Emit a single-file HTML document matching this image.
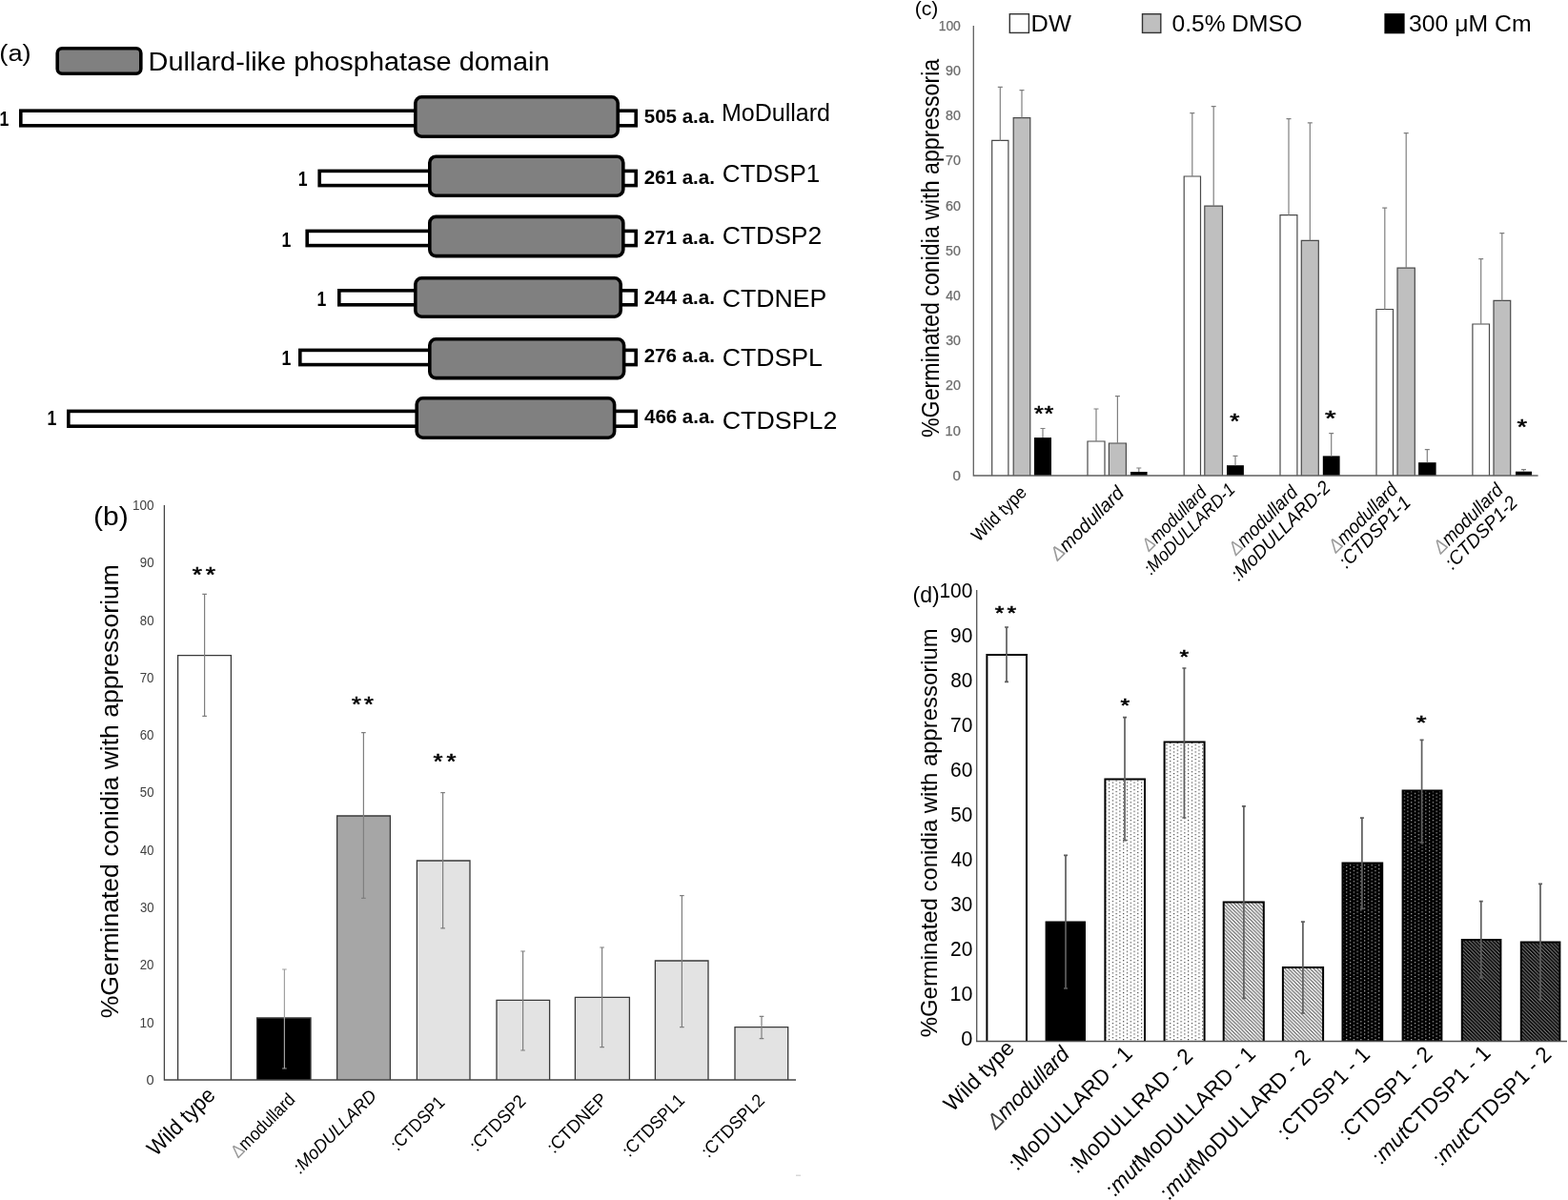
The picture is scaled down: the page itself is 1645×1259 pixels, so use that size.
<!DOCTYPE html>
<html><head><meta charset="utf-8"><style>
html,body{margin:0;padding:0;background:#fff;}
svg{display:block;}
text{font-family:'Liberation Sans', Arial, sans-serif;}
</style></head><body>
<svg width="1645" height="1259" viewBox="0 0 1645 1259">
<rect width="1645" height="1259" fill="#fff"/>
<g id="pa">
<text x="-0.70" y="63.88" font-size="24.66" textLength="33.33" lengthAdjust="spacingAndGlyphs">(a)</text>
<rect x="60.2" y="50.8" width="87.6" height="26.4" rx="5" fill="#808080" stroke="#000" stroke-width="3.6"/>
<text x="155.62" y="73.50" font-size="28.36" textLength="420.85" lengthAdjust="spacingAndGlyphs">Dullard-like phosphatase domain</text>
<rect x="21.8" y="116.2" width="645.4" height="15.6" fill="#fff" stroke="#000" stroke-width="3.6"/>
<rect x="435.8" y="101.8" width="212.4" height="41.4" rx="6.5" fill="#808080" stroke="#000" stroke-width="3.6"/>
<text x="-0.60" y="132.00" font-size="21.24" textLength="9.81" lengthAdjust="spacingAndGlyphs" font-weight="bold">1</text>
<text x="675.78" y="129.40" font-size="20.95" textLength="74.19" lengthAdjust="spacingAndGlyphs" font-weight="bold">505 a.a.</text>
<text x="756.93" y="126.50" font-size="26.47" textLength="114.09" lengthAdjust="spacingAndGlyphs">MoDullard</text>
<rect x="335.2" y="179.4" width="332.0" height="15.2" fill="#fff" stroke="#000" stroke-width="3.6"/>
<rect x="450.8" y="164.2" width="203.0" height="41.0" rx="6.5" fill="#808080" stroke="#000" stroke-width="3.6"/>
<text x="312.80" y="195.00" font-size="21.24" textLength="9.81" lengthAdjust="spacingAndGlyphs" font-weight="bold">1</text>
<text x="675.68" y="193.00" font-size="20.95" textLength="74.29" lengthAdjust="spacingAndGlyphs" font-weight="bold">261 a.a.</text>
<text x="757.70" y="191.00" font-size="26.47" textLength="102.54" lengthAdjust="spacingAndGlyphs">CTDSP1</text>
<rect x="322.2" y="242.4" width="345.0" height="15.2" fill="#fff" stroke="#000" stroke-width="3.6"/>
<rect x="450.8" y="227.4" width="203.0" height="41.2" rx="6.5" fill="#808080" stroke="#000" stroke-width="3.6"/>
<text x="295.40" y="259.00" font-size="21.24" textLength="9.81" lengthAdjust="spacingAndGlyphs" font-weight="bold">1</text>
<text x="675.68" y="256.00" font-size="20.95" textLength="74.29" lengthAdjust="spacingAndGlyphs" font-weight="bold">271 a.a.</text>
<text x="757.67" y="256.00" font-size="26.47" textLength="104.66" lengthAdjust="spacingAndGlyphs">CTDSP2</text>
<rect x="355.8" y="304.8" width="311.4" height="15.0" fill="#fff" stroke="#000" stroke-width="3.6"/>
<rect x="435.8" y="291.8" width="215.4" height="40.4" rx="6.5" fill="#808080" stroke="#000" stroke-width="3.6"/>
<text x="332.40" y="321.00" font-size="21.24" textLength="9.81" lengthAdjust="spacingAndGlyphs" font-weight="bold">1</text>
<text x="675.68" y="319.00" font-size="20.95" textLength="74.29" lengthAdjust="spacingAndGlyphs" font-weight="bold">244 a.a.</text>
<text x="757.67" y="321.60" font-size="26.47" textLength="109.71" lengthAdjust="spacingAndGlyphs">CTDNEP</text>
<rect x="314.8" y="367.4" width="352.4" height="15.2" fill="#fff" stroke="#000" stroke-width="3.6"/>
<rect x="450.8" y="355.8" width="203.8" height="40.8" rx="6.5" fill="#808080" stroke="#000" stroke-width="3.6"/>
<text x="295.40" y="383.00" font-size="21.24" textLength="9.81" lengthAdjust="spacingAndGlyphs" font-weight="bold">1</text>
<text x="675.68" y="380.00" font-size="20.95" textLength="74.29" lengthAdjust="spacingAndGlyphs" font-weight="bold">276 a.a.</text>
<text x="757.67" y="384.00" font-size="26.47" textLength="105.21" lengthAdjust="spacingAndGlyphs">CTDSPL</text>
<rect x="71.8" y="431.4" width="595.4" height="15.8" fill="#fff" stroke="#000" stroke-width="3.6"/>
<rect x="437.2" y="417.8" width="207.4" height="41.4" rx="6.5" fill="#808080" stroke="#000" stroke-width="3.6"/>
<text x="49.40" y="446.00" font-size="21.24" textLength="9.81" lengthAdjust="spacingAndGlyphs" font-weight="bold">1</text>
<text x="676.09" y="444.00" font-size="20.95" textLength="73.87" lengthAdjust="spacingAndGlyphs" font-weight="bold">466 a.a.</text>
<text x="757.66" y="450.00" font-size="26.47" textLength="120.72" lengthAdjust="spacingAndGlyphs">CTDSPL2</text>
</g>
<g id="pb">
<text x="98.12" y="551.44" font-size="26.81" textLength="36.67" lengthAdjust="spacingAndGlyphs">(b)</text>
<text transform="translate(123.6,1068.33) rotate(-90)" x="0" y="0" font-size="26.5" textLength="476.27" lengthAdjust="spacingAndGlyphs">%Germinated conidia with appressorium</text>
<text x="153.41" y="1137.95" font-size="14.40" textLength="8.15" lengthAdjust="spacingAndGlyphs" fill="#404040">0</text>
<text x="146.38" y="1077.65" font-size="14.40" textLength="15.17" lengthAdjust="spacingAndGlyphs" fill="#404040">10</text>
<text x="146.73" y="1017.35" font-size="14.40" textLength="14.79" lengthAdjust="spacingAndGlyphs" fill="#404040">20</text>
<text x="146.91" y="957.05" font-size="14.40" textLength="14.62" lengthAdjust="spacingAndGlyphs" fill="#404040">30</text>
<text x="147.11" y="896.75" font-size="14.40" textLength="14.41" lengthAdjust="spacingAndGlyphs" fill="#404040">40</text>
<text x="146.87" y="836.45" font-size="14.40" textLength="14.65" lengthAdjust="spacingAndGlyphs" fill="#404040">50</text>
<text x="146.73" y="776.15" font-size="14.40" textLength="14.79" lengthAdjust="spacingAndGlyphs" fill="#404040">60</text>
<text x="146.73" y="715.85" font-size="14.40" textLength="14.79" lengthAdjust="spacingAndGlyphs" fill="#404040">70</text>
<text x="146.84" y="655.55" font-size="14.40" textLength="14.69" lengthAdjust="spacingAndGlyphs" fill="#404040">80</text>
<text x="146.77" y="595.25" font-size="14.40" textLength="14.76" lengthAdjust="spacingAndGlyphs" fill="#404040">90</text>
<text x="138.88" y="534.95" font-size="14.40" textLength="22.64" lengthAdjust="spacingAndGlyphs" fill="#404040">100</text>
<rect x="186.6" y="687.6" width="55.8" height="445.4" fill="#fff"/>
<path d="M186.6 1133.0V687.6H242.4V1133.0" fill="none" stroke="#3a3a3a" stroke-width="1.3"/>
<rect x="269.6" y="1068.0" width="56.4" height="65.0" fill="#000"/>
<path d="M269.6 1133.0V1068.0H326.0V1133.0" fill="none" stroke="#3a3a3a" stroke-width="1.3"/>
<rect x="353.6" y="856.0" width="55.8" height="277.0" fill="#a6a6a6"/>
<path d="M353.6 1133.0V856.0H409.4V1133.0" fill="none" stroke="#3a3a3a" stroke-width="1.3"/>
<rect x="437.4" y="903.0" width="55.6" height="230.0" fill="#e3e3e3"/>
<path d="M437.4 1133.0V903.0H493.0V1133.0" fill="none" stroke="#3a3a3a" stroke-width="1.3"/>
<rect x="521.0" y="1049.4" width="55.6" height="83.6" fill="#e3e3e3"/>
<path d="M521.0 1133.0V1049.4H576.6V1133.0" fill="none" stroke="#3a3a3a" stroke-width="1.3"/>
<rect x="603.4" y="1046.4" width="57.0" height="86.6" fill="#e3e3e3"/>
<path d="M603.4 1133.0V1046.4H660.4V1133.0" fill="none" stroke="#3a3a3a" stroke-width="1.3"/>
<rect x="687.4" y="1008.0" width="55.6" height="125.0" fill="#e3e3e3"/>
<path d="M687.4 1133.0V1008.0H743.0V1133.0" fill="none" stroke="#3a3a3a" stroke-width="1.3"/>
<rect x="771.0" y="1077.6" width="55.7" height="55.4" fill="#e3e3e3"/>
<path d="M771.0 1133.0V1077.6H826.7V1133.0" fill="none" stroke="#3a3a3a" stroke-width="1.3"/>
<path d="M214.6 623.4V751.4M212.29999999999998 623.4H216.9M212.29999999999998 751.4H216.9" stroke="#7f7f7f" stroke-width="1.2" fill="none"/>
<path d="M298.4 1017V1121M296.09999999999997 1017H300.7M296.09999999999997 1121H300.7" stroke="#a0a0a0" stroke-width="1.2" fill="none"/>
<path d="M381.4 768.6V942.4M379.09999999999997 768.6H383.7M379.09999999999997 942.4H383.7" stroke="#7f7f7f" stroke-width="1.2" fill="none"/>
<path d="M464.6 831.6V973.8M462.3 831.6H466.90000000000003M462.3 973.8H466.90000000000003" stroke="#7f7f7f" stroke-width="1.2" fill="none"/>
<path d="M548.6 998V1102M546.3000000000001 998H550.9M546.3000000000001 1102H550.9" stroke="#7f7f7f" stroke-width="1.2" fill="none"/>
<path d="M631.6 994V1098.6M629.3000000000001 994H633.9M629.3000000000001 1098.6H633.9" stroke="#7f7f7f" stroke-width="1.2" fill="none"/>
<path d="M715.4 939.6V1077.6M713.1 939.6H717.6999999999999M713.1 1077.6H717.6999999999999" stroke="#7f7f7f" stroke-width="1.2" fill="none"/>
<path d="M799 1066.4V1089.6M796.7 1066.4H801.3M796.7 1089.6H801.3" stroke="#7f7f7f" stroke-width="1.2" fill="none"/>
<path d="M172.4 530V1133.6M171.8 1133H835" stroke="#444" stroke-width="1.3" fill="none"/>
<text x="201.89" y="609.83" font-size="21.32" textLength="10.23" lengthAdjust="spacingAndGlyphs" font-family="'DejaVu Sans', sans-serif" stroke="#000" stroke-width="0.55">*</text>
<text x="215.69" y="609.83" font-size="21.32" textLength="10.23" lengthAdjust="spacingAndGlyphs" font-family="'DejaVu Sans', sans-serif" stroke="#000" stroke-width="0.55">*</text>
<text x="368.91" y="745.79" font-size="21.54" textLength="9.89" lengthAdjust="spacingAndGlyphs" font-family="'DejaVu Sans', sans-serif" stroke="#000" stroke-width="0.55">*</text>
<text x="382.11" y="745.79" font-size="21.54" textLength="9.89" lengthAdjust="spacingAndGlyphs" font-family="'DejaVu Sans', sans-serif" stroke="#000" stroke-width="0.55">*</text>
<text x="454.40" y="805.83" font-size="21.32" textLength="10.00" lengthAdjust="spacingAndGlyphs" font-family="'DejaVu Sans', sans-serif" stroke="#000" stroke-width="0.55">*</text>
<text x="468.60" y="805.83" font-size="21.32" textLength="10.00" lengthAdjust="spacingAndGlyphs" font-family="'DejaVu Sans', sans-serif" stroke="#000" stroke-width="0.55">*</text>
<text transform="translate(163.54,1213.92) rotate(-45)" font-size="23.00" textLength="89.77" lengthAdjust="spacingAndGlyphs">Wild type</text>
<text transform="translate(249.80,1215.80) rotate(-45)" font-size="19.00" textLength="86.22" lengthAdjust="spacingAndGlyphs"><tspan fill="#9a9a9a">&#916;</tspan>modullard</text>
<text transform="translate(315.01,1232.13) rotate(-45)" font-size="19.00" textLength="114.85" lengthAdjust="spacingAndGlyphs" font-style="italic">:MoDULLARD</text>
<text transform="translate(417.31,1208.17) rotate(-45)" font-size="19.00" textLength="71.27" lengthAdjust="spacingAndGlyphs">:CTDSP1</text>
<text transform="translate(500.21,1209.05) rotate(-45)" font-size="19.00" textLength="74.18" lengthAdjust="spacingAndGlyphs">:CTDSP2</text>
<text transform="translate(581.35,1211.09) rotate(-45)" font-size="19.00" textLength="80.12" lengthAdjust="spacingAndGlyphs">:CTDNEP</text>
<text transform="translate(660.36,1214.69) rotate(-45)" font-size="19.00" textLength="83.35" lengthAdjust="spacingAndGlyphs">:CTDSPL1</text>
<text transform="translate(743.24,1215.61) rotate(-45)" font-size="19.00" textLength="84.75" lengthAdjust="spacingAndGlyphs">:CTDSPL2</text>
<rect x="835" y="1232.6" width="5" height="1.2" fill="#cfcfcf"/>
</g>
<g id="pc">
<text x="959.68" y="15.99" font-size="19.30" textLength="24.61" lengthAdjust="spacingAndGlyphs">(c)</text>
<text transform="translate(985.2,459.01) rotate(-90)" x="0" y="0" font-size="24.90" textLength="397.26" lengthAdjust="spacingAndGlyphs">%Germinated conidia with appressoria</text>
<text x="999.50" y="503.75" font-size="13.82" textLength="8.39" lengthAdjust="spacingAndGlyphs" fill="#6c6c6c" stroke="#6c6c6c" stroke-width="0.25">0</text>
<text x="991.60" y="456.55" font-size="13.82" textLength="16.28" lengthAdjust="spacingAndGlyphs" fill="#6c6c6c" stroke="#6c6c6c" stroke-width="0.25">10</text>
<text x="991.99" y="409.35" font-size="13.82" textLength="15.88" lengthAdjust="spacingAndGlyphs" fill="#6c6c6c" stroke="#6c6c6c" stroke-width="0.25">20</text>
<text x="992.17" y="362.15" font-size="13.82" textLength="15.69" lengthAdjust="spacingAndGlyphs" fill="#6c6c6c" stroke="#6c6c6c" stroke-width="0.25">30</text>
<text x="992.39" y="314.95" font-size="13.82" textLength="15.47" lengthAdjust="spacingAndGlyphs" fill="#6c6c6c" stroke="#6c6c6c" stroke-width="0.25">40</text>
<text x="992.13" y="267.75" font-size="13.82" textLength="15.73" lengthAdjust="spacingAndGlyphs" fill="#6c6c6c" stroke="#6c6c6c" stroke-width="0.25">50</text>
<text x="991.99" y="220.55" font-size="13.82" textLength="15.88" lengthAdjust="spacingAndGlyphs" fill="#6c6c6c" stroke="#6c6c6c" stroke-width="0.25">60</text>
<text x="991.99" y="173.35" font-size="13.82" textLength="15.88" lengthAdjust="spacingAndGlyphs" fill="#6c6c6c" stroke="#6c6c6c" stroke-width="0.25">70</text>
<text x="992.10" y="126.15" font-size="13.82" textLength="15.77" lengthAdjust="spacingAndGlyphs" fill="#6c6c6c" stroke="#6c6c6c" stroke-width="0.25">80</text>
<text x="992.02" y="78.95" font-size="13.82" textLength="15.84" lengthAdjust="spacingAndGlyphs" fill="#6c6c6c" stroke="#6c6c6c" stroke-width="0.25">90</text>
<text x="984.66" y="31.75" font-size="13.82" textLength="23.18" lengthAdjust="spacingAndGlyphs" fill="#6c6c6c" stroke="#6c6c6c" stroke-width="0.25">100</text>
<rect x="1059.3" y="14.7" width="20.1" height="19.7" fill="#fff" stroke="#333" stroke-width="1.4"/>
<rect x="1198.5" y="14.7" width="19.3" height="19.7" fill="#bfbfbf" stroke="#333" stroke-width="1.4"/>
<rect x="1452.4" y="14.1" width="21.2" height="21.2" fill="#000"/>
<text x="1081.61" y="32.50" font-size="24.58" textLength="42.28" lengthAdjust="spacingAndGlyphs">DW</text>
<text x="1229.52" y="32.50" font-size="24.58">0.5% DMSO</text>
<text x="1478.07" y="32.70" font-size="24.58" textLength="128.57" lengthAdjust="spacingAndGlyphs">300 μM Cm</text>
<rect x="1040.7" y="147.4" width="17.2" height="351.6" fill="#fff"/>
<path d="M1040.7 499.0V147.4H1057.9V499.0" fill="none" stroke="#4a4a4a" stroke-width="1.2"/>
<path d="M1049.3 147.4V91.4M1046.8 91.4H1051.8" stroke="#808080" stroke-width="1.2" fill="none"/>
<rect x="1063.2" y="123.6" width="17.6" height="375.4" fill="#bfbfbf"/>
<path d="M1063.2 499.0V123.6H1080.8V499.0" fill="none" stroke="#4a4a4a" stroke-width="1.2"/>
<path d="M1072.0 123.6V94.6M1069.5 94.6H1074.5" stroke="#808080" stroke-width="1.2" fill="none"/>
<rect x="1085.0" y="459.1" width="18.0" height="39.9" fill="#000"/>
<path d="M1094.0 459.1V449.5M1091.5 449.5H1096.5" stroke="#808080" stroke-width="1.2" fill="none"/>
<rect x="1141.0" y="463.0" width="18.0" height="36.0" fill="#fff"/>
<path d="M1141.0 499.0V463.0H1159.0V499.0" fill="none" stroke="#4a4a4a" stroke-width="1.2"/>
<path d="M1150.0 463.0V429M1147.5 429H1152.5" stroke="#808080" stroke-width="1.2" fill="none"/>
<rect x="1163.4" y="465.0" width="18.0" height="34.0" fill="#bfbfbf"/>
<path d="M1163.4 499.0V465.0H1181.4V499.0" fill="none" stroke="#4a4a4a" stroke-width="1.2"/>
<path d="M1172.4 465.0V415.6M1169.9 415.6H1174.9" stroke="#808080" stroke-width="1.2" fill="none"/>
<rect x="1186.0" y="495.0" width="17.6" height="4.0" fill="#000"/>
<path d="M1194.8 495.0V491M1192.3 491H1197.3" stroke="#808080" stroke-width="1.2" fill="none"/>
<rect x="1242.2" y="185.0" width="17.3" height="314.0" fill="#fff"/>
<path d="M1242.2 499.0V185.0H1259.5V499.0" fill="none" stroke="#4a4a4a" stroke-width="1.2"/>
<path d="M1250.8 185.0V118.6M1248.3 118.6H1253.3" stroke="#808080" stroke-width="1.2" fill="none"/>
<rect x="1263.8" y="216.2" width="18.7" height="282.8" fill="#bfbfbf"/>
<path d="M1263.8 499.0V216.2H1282.5V499.0" fill="none" stroke="#4a4a4a" stroke-width="1.2"/>
<path d="M1273.2 216.2V111.7M1270.7 111.7H1275.7" stroke="#808080" stroke-width="1.2" fill="none"/>
<rect x="1287.0" y="488.2" width="17.9" height="10.8" fill="#000"/>
<path d="M1296.0 488.2V478.4M1293.5 478.4H1298.5" stroke="#808080" stroke-width="1.2" fill="none"/>
<rect x="1343.0" y="225.7" width="17.9" height="273.3" fill="#fff"/>
<path d="M1343.0 499.0V225.7H1360.9V499.0" fill="none" stroke="#4a4a4a" stroke-width="1.2"/>
<path d="M1352.0 225.7V124.7M1349.5 124.7H1354.5" stroke="#808080" stroke-width="1.2" fill="none"/>
<rect x="1365.3" y="252.3" width="18.0" height="246.7" fill="#bfbfbf"/>
<path d="M1365.3 499.0V252.3H1383.3V499.0" fill="none" stroke="#4a4a4a" stroke-width="1.2"/>
<path d="M1374.3 252.3V128.8M1371.8 128.8H1376.8" stroke="#808080" stroke-width="1.2" fill="none"/>
<rect x="1387.8" y="478.4" width="17.8" height="20.6" fill="#000"/>
<path d="M1396.7 478.4V454.7M1394.2 454.7H1399.2" stroke="#808080" stroke-width="1.2" fill="none"/>
<rect x="1444.0" y="324.5" width="17.5" height="174.5" fill="#fff"/>
<path d="M1444.0 499.0V324.5H1461.5V499.0" fill="none" stroke="#4a4a4a" stroke-width="1.2"/>
<path d="M1452.8 324.5V218.1M1450.2 218.1H1455.2" stroke="#808080" stroke-width="1.2" fill="none"/>
<rect x="1466.0" y="281.2" width="18.3" height="217.8" fill="#bfbfbf"/>
<path d="M1466.0 499.0V281.2H1484.3V499.0" fill="none" stroke="#4a4a4a" stroke-width="1.2"/>
<path d="M1475.2 281.2V139.7M1472.7 139.7H1477.7" stroke="#808080" stroke-width="1.2" fill="none"/>
<rect x="1488.1" y="485.2" width="18.5" height="13.8" fill="#000"/>
<path d="M1497.3 485.2V471.6M1494.8 471.6H1499.8" stroke="#808080" stroke-width="1.2" fill="none"/>
<rect x="1544.9" y="340.0" width="17.6" height="159.0" fill="#fff"/>
<path d="M1544.9 499.0V340.0H1562.5V499.0" fill="none" stroke="#4a4a4a" stroke-width="1.2"/>
<path d="M1553.7 340.0V271.7M1551.2 271.7H1556.2" stroke="#808080" stroke-width="1.2" fill="none"/>
<rect x="1567.0" y="315.4" width="17.7" height="183.6" fill="#bfbfbf"/>
<path d="M1567.0 499.0V315.4H1584.7V499.0" fill="none" stroke="#4a4a4a" stroke-width="1.2"/>
<path d="M1575.8 315.4V244.6M1573.3 244.6H1578.3" stroke="#808080" stroke-width="1.2" fill="none"/>
<rect x="1590.0" y="494.7" width="17.0" height="4.3" fill="#000"/>
<path d="M1598.5 494.7V492.6M1596.0 492.6H1601.0" stroke="#808080" stroke-width="1.2" fill="none"/>
<path d="M1021.3 27V499.6M1020.7 499H1613.6" stroke="#606060" stroke-width="1.3" fill="none"/>
<text x="1085.11" y="441.38" font-size="22.20" textLength="9.77" lengthAdjust="spacingAndGlyphs" font-family="'DejaVu Sans', sans-serif" stroke="#000" stroke-width="0.55">*</text>
<text x="1095.41" y="441.38" font-size="22.20" textLength="9.77" lengthAdjust="spacingAndGlyphs" font-family="'DejaVu Sans', sans-serif" stroke="#000" stroke-width="0.55">*</text>
<text x="1290.39" y="449.05" font-size="22.42" textLength="10.23" lengthAdjust="spacingAndGlyphs" font-family="'DejaVu Sans', sans-serif" stroke="#000" stroke-width="0.55">*</text>
<text x="1390.10" y="446.32" font-size="21.98" textLength="11.59" lengthAdjust="spacingAndGlyphs" font-family="'DejaVu Sans', sans-serif" stroke="#000" stroke-width="0.55">*</text>
<text x="1591.57" y="455.32" font-size="21.98" textLength="10.57" lengthAdjust="spacingAndGlyphs" font-family="'DejaVu Sans', sans-serif" stroke="#000" stroke-width="0.55">*</text>
<text transform="translate(1026.73,569.22) rotate(-45)" font-size="19.00" textLength="72.86" lengthAdjust="spacingAndGlyphs">Wild type</text>
<text transform="translate(1109.51,589.33) rotate(-45)" font-size="20.00" textLength="100.26" lengthAdjust="spacingAndGlyphs" font-style="italic"><tspan fill="#9a9a9a">&#916;</tspan>modullard</text>
<text transform="translate(1205.56,579.21) rotate(-45)" font-size="19.00" textLength="86.80" lengthAdjust="spacingAndGlyphs" font-style="italic"><tspan fill="#9a9a9a">&#916;</tspan>modullard</text>
<text transform="translate(1207.39,604.12) rotate(-45)" font-size="19.00" textLength="126.55" lengthAdjust="spacingAndGlyphs" font-style="italic">:MoDULLARD-1</text>
<text transform="translate(1296.75,583.61) rotate(-45)" font-size="20.00" textLength="93.16" lengthAdjust="spacingAndGlyphs" font-style="italic"><tspan fill="#9a9a9a">&#916;</tspan>modullard</text>
<text transform="translate(1299.16,610.54) rotate(-45)" font-size="20.00" textLength="138.31" lengthAdjust="spacingAndGlyphs" font-style="italic">:MoDULLARD-2</text>
<text transform="translate(1401.41,580.90) rotate(-45)" font-size="20.00" textLength="93.53" lengthAdjust="spacingAndGlyphs" font-style="italic"><tspan fill="#9a9a9a">&#916;</tspan>modullard</text>
<text transform="translate(1412.45,597.32) rotate(-45)" font-size="20.00" textLength="97.33" lengthAdjust="spacingAndGlyphs" font-style="italic">:CTDSP1-1</text>
<text transform="translate(1511.44,582.05) rotate(-45)" font-size="20.00" textLength="94.12" lengthAdjust="spacingAndGlyphs" font-style="italic"><tspan fill="#9a9a9a">&#916;</tspan>modullard</text>
<text transform="translate(1523.69,598.39) rotate(-45)" font-size="20.00" textLength="98.66" lengthAdjust="spacingAndGlyphs" font-style="italic">:CTDSP1-2</text>
</g>
<defs>
<pattern id="pdl" patternUnits="userSpaceOnUse" width="7.55" height="3.77" x="0.3" y="0.5"><rect width="7.55" height="3.77" fill="#fff"/><rect x="0" y="0" width="1.2" height="1.2" fill="#3c3c3c"/><rect x="3.775" y="1.885" width="1.2" height="1.2" fill="#3c3c3c"/></pattern>
<pattern id="pdd" patternUnits="userSpaceOnUse" width="7.55" height="3.77" x="0.3" y="0.5"><rect width="7.55" height="3.77" fill="#000"/><rect x="0" y="0" width="1.25" height="1.25" fill="#b0b0b0"/><rect x="3.775" y="1.885" width="1.25" height="1.25" fill="#b0b0b0"/></pattern>
<pattern id="phl" patternUnits="userSpaceOnUse" width="3.77" height="3.77"><rect width="3.77" height="3.77" fill="#fff"/><path d="M-1 -1L4.77 4.77M-4.77 -1L1 4.77M2.77 -1L8.54 4.77" stroke="#555" stroke-width="1.15"/></pattern>
<pattern id="phd" patternUnits="userSpaceOnUse" width="3.77" height="3.77"><rect width="3.77" height="3.77" fill="#000"/><path d="M-1 -1L4.77 4.77M-4.77 -1L1 4.77M2.77 -1L8.54 4.77" stroke="#8c8c8c" stroke-width="0.95"/></pattern>
</defs>
<g id="pd">
<text x="957.56" y="632.22" font-size="23.06">(d)</text>
<text transform="translate(983,1088.24) rotate(-90)" x="0" y="0" font-size="23.80" textLength="429.01" lengthAdjust="spacingAndGlyphs">%Germinated conidia with appressorium</text>
<text x="1008.23" y="1097.35" font-size="21.96" textLength="12.11" lengthAdjust="spacingAndGlyphs">0</text>
<text x="996.49" y="1050.36" font-size="21.96" textLength="23.86" lengthAdjust="spacingAndGlyphs">10</text>
<text x="997.05" y="1003.36" font-size="21.96" textLength="23.28" lengthAdjust="spacingAndGlyphs">20</text>
<text x="997.32" y="956.36" font-size="21.96" textLength="23.00" lengthAdjust="spacingAndGlyphs">30</text>
<text x="997.64" y="909.37" font-size="21.96" textLength="22.67" lengthAdjust="spacingAndGlyphs">40</text>
<text x="997.27" y="862.38" font-size="21.96" textLength="23.05" lengthAdjust="spacingAndGlyphs">50</text>
<text x="997.05" y="815.38" font-size="21.96" textLength="23.28" lengthAdjust="spacingAndGlyphs">60</text>
<text x="997.05" y="768.38" font-size="21.96" textLength="23.28" lengthAdjust="spacingAndGlyphs">70</text>
<text x="997.22" y="721.39" font-size="21.96" textLength="23.11" lengthAdjust="spacingAndGlyphs">80</text>
<text x="997.11" y="674.39" font-size="21.96" textLength="23.22" lengthAdjust="spacingAndGlyphs">90</text>
<text x="985.43" y="627.40" font-size="21.96" textLength="34.87" lengthAdjust="spacingAndGlyphs">100</text>
<rect x="1035.4" y="687.0" width="41.6" height="405.5" fill="#fff"/>
<path d="M1035.4 1092.5V687.0H1077.0V1092.5" fill="none" stroke="#000" stroke-width="2"/>
<rect x="1097.6" y="967.6" width="40.4" height="124.9" fill="#000"/>
<path d="M1097.6 1092.5V967.6H1138.0V1092.5" fill="none" stroke="#000" stroke-width="2"/>
<rect x="1159.4" y="817.4" width="41.6" height="275.1" fill="url(#pdl)"/>
<path d="M1159.4 1092.5V817.4H1201.0V1092.5" fill="none" stroke="#000" stroke-width="2"/>
<rect x="1221.6" y="778.6" width="42.0" height="313.9" fill="url(#pdl)"/>
<path d="M1221.6 1092.5V778.6H1263.6V1092.5" fill="none" stroke="#000" stroke-width="2"/>
<rect x="1283.7" y="946.6" width="42.1" height="145.9" fill="url(#phl)"/>
<path d="M1283.7 1092.5V946.6H1325.8V1092.5" fill="none" stroke="#000" stroke-width="2"/>
<rect x="1345.9" y="1015.0" width="42.2" height="77.5" fill="url(#phl)"/>
<path d="M1345.9 1092.5V1015.0H1388.1V1092.5" fill="none" stroke="#000" stroke-width="2"/>
<rect x="1408.5" y="905.4" width="41.7" height="187.1" fill="url(#pdd)"/>
<path d="M1408.5 1092.5V905.4H1450.2V1092.5" fill="none" stroke="#000" stroke-width="2"/>
<rect x="1471.6" y="829.5" width="40.8" height="263.0" fill="url(#pdd)"/>
<path d="M1471.6 1092.5V829.5H1512.4V1092.5" fill="none" stroke="#000" stroke-width="2"/>
<rect x="1533.8" y="985.9" width="40.6" height="106.6" fill="url(#phd)"/>
<path d="M1533.8 1092.5V985.9H1574.4V1092.5" fill="none" stroke="#000" stroke-width="2"/>
<rect x="1595.8" y="988.6" width="40.6" height="103.9" fill="url(#phd)"/>
<path d="M1595.8 1092.5V988.6H1636.4V1092.5" fill="none" stroke="#000" stroke-width="2"/>
<path d="M1056 658V715.4M1054 658H1058M1054 715.4H1058" stroke="#5e5e5e" stroke-width="1.7" fill="none"/>
<path d="M1118 897.4V1037M1116 897.4H1120M1116 1037H1120" stroke="#5e5e5e" stroke-width="1.7" fill="none"/>
<path d="M1180 752.6V881.6M1178 752.6H1182M1178 881.6H1182" stroke="#5e5e5e" stroke-width="1.7" fill="none"/>
<path d="M1242.4 701V858M1240.4 701H1244.4M1240.4 858H1244.4" stroke="#5e5e5e" stroke-width="1.7" fill="none"/>
<path d="M1304.9 845.8V1047.5M1302.9 845.8H1306.9M1302.9 1047.5H1306.9" stroke="#5e5e5e" stroke-width="1.7" fill="none"/>
<path d="M1366.9 967.1V1063M1364.9 967.1H1368.9M1364.9 1063H1368.9" stroke="#5e5e5e" stroke-width="1.7" fill="none"/>
<path d="M1428.9 858.1V953.4M1426.9 858.1H1430.9M1426.9 953.4H1430.9" stroke="#5e5e5e" stroke-width="1.7" fill="none"/>
<path d="M1491.6 776.3V883.9M1489.6 776.3H1493.6M1489.6 883.9H1493.6" stroke="#5e5e5e" stroke-width="1.7" fill="none"/>
<path d="M1553.8 945.6V1025.9M1551.8 945.6H1555.8M1551.8 1025.9H1555.8" stroke="#5e5e5e" stroke-width="1.7" fill="none"/>
<path d="M1616 927.4V1048.7M1614 927.4H1618M1614 1048.7H1618" stroke="#5e5e5e" stroke-width="1.7" fill="none"/>
<path d="M1024.7 619V1093.1M1024 1092.5H1644" stroke="#555" stroke-width="1.3" fill="none"/>
<text x="1043.72" y="649.57" font-size="21.10" textLength="9.66" lengthAdjust="spacingAndGlyphs" font-family="'DejaVu Sans', sans-serif" stroke="#000" stroke-width="0.55">*</text>
<text x="1056.42" y="649.57" font-size="21.10" textLength="9.66" lengthAdjust="spacingAndGlyphs" font-family="'DejaVu Sans', sans-serif" stroke="#000" stroke-width="0.55">*</text>
<text x="1175.42" y="746.69" font-size="19.78" textLength="9.66" lengthAdjust="spacingAndGlyphs" font-family="'DejaVu Sans', sans-serif" stroke="#000" stroke-width="0.55">*</text>
<text x="1237.42" y="695.69" font-size="19.78" textLength="9.66" lengthAdjust="spacingAndGlyphs" font-family="'DejaVu Sans', sans-serif" stroke="#000" stroke-width="0.55">*</text>
<text x="1485.85" y="764.50" font-size="20.88" textLength="10.80" lengthAdjust="spacingAndGlyphs" font-family="'DejaVu Sans', sans-serif" stroke="#000" stroke-width="0.55">*</text>
<text transform="translate(999.32,1167.34) rotate(-45)" font-size="23.00" textLength="93.59" lengthAdjust="spacingAndGlyphs">Wild type</text>
<text transform="translate(1044.66,1185.95) rotate(-45)" font-size="23.00" textLength="111.14" lengthAdjust="spacingAndGlyphs" font-style="italic"><tspan fill="#444">&#916;</tspan>modullard</text>
<text transform="translate(1067.08,1229.25) rotate(-45)" font-size="23.00" textLength="172.88" lengthAdjust="spacingAndGlyphs">:MoDULLARD - 1</text>
<text transform="translate(1129.97,1232.35) rotate(-45)" font-size="23.00" textLength="173.73" lengthAdjust="spacingAndGlyphs">:MoDULLRAD - 2</text>
<text transform="translate(1168.89,1256.78) rotate(-45)" font-size="23.00" textLength="211.50" lengthAdjust="spacingAndGlyphs">:<tspan font-style="italic">mut</tspan>MoDULLARD - 1</text>
<text transform="translate(1226.01,1260.31) rotate(-45)" font-size="23.00" textLength="212.13" lengthAdjust="spacingAndGlyphs">:<tspan font-style="italic">mut</tspan>MoDULLARD - 2</text>
<text transform="translate(1349.07,1197.26) rotate(-45)" font-size="23.00" textLength="126.59" lengthAdjust="spacingAndGlyphs">:CTDSP1 - 1</text>
<text transform="translate(1413.70,1197.82) rotate(-45)" font-size="23.00" textLength="128.03" lengthAdjust="spacingAndGlyphs">:CTDSP1 - 2</text>
<text transform="translate(1448.38,1222.89) rotate(-45)" font-size="23.00" textLength="165.10" lengthAdjust="spacingAndGlyphs">:<tspan font-style="italic">mut</tspan>CTDSP1 - 1</text>
<text transform="translate(1512.08,1224.39) rotate(-45)" font-size="23.00" textLength="165.22" lengthAdjust="spacingAndGlyphs">:<tspan font-style="italic">mut</tspan>CTDSP1 - 2</text>
</g>
</svg></body></html>
